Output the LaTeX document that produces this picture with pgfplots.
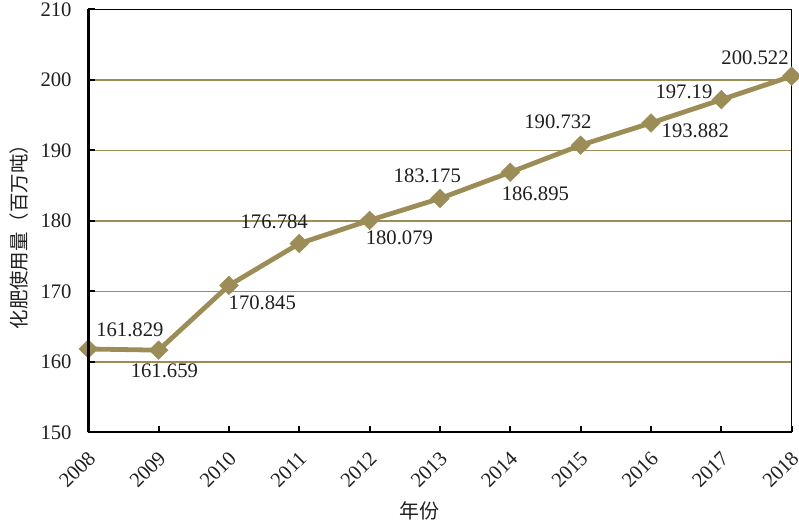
\documentclass[border=0pt]{standalone}
\usepackage{pgfplots}
\pgfplotsset{compat=1.18}
\usepackage{pgfplotstable}
\usepackage{fontspec}
\setmainfont{Liberation Serif}
\newfontfamily\cjk{Noto Sans CJK SC}
\definecolor{olivebar}{RGB}{155,141,85}

% year, fertilizer use (million t), label text, label offset (pt)
\pgfplotstableread{
year value lab dx dy
2008 161.829 161.829 31.2 14.3
2009 161.659 161.659 4.3 -15.2
2010 170.845 170.845 25.0 -13.0
2011 176.784 176.784 -18.8 16.3
2012 180.079 180.079 22.3 -13.0
2013 183.175 183.175 -9.5 17.0
2014 186.895 186.895 18.8 -15.8
2015 190.732 190.732 -17.0 17.5
2016 193.882 193.882 33.2 -6.2
2017 197.19 197.19 -28.0 5.7
2018 200.522 200.522 -27.5 13.7
}\fert

\begin{document}
\begin{tikzpicture}
\begin{axis}[
  scale only axis,
  width=527.5pt, height=317.25pt,
  xmin=2008, xmax=2018, ymin=150, ymax=210,
  xtick={2008,...,2018}, ytick={150,160,...,210},
  /pgf/number format/assume math mode=true,
  /pgf/number format/1000 sep={},
  tick align=inside, xtick pos=bottom, ytick pos=left,
  major tick length=5pt,
  tick style={black, line width=1.5pt},
  axis line style={black, line width=0.8pt},
  ymajorgrids,
  major grid style={olivebar, line width=1.1pt},
  ticklabel style={font=\fontsize{15.5}{18}\selectfont, text=black!88},
  yticklabel style={xshift=-9pt},
  xticklabel style={rotate=45, anchor=north east, xshift=-6.5pt, yshift=-5.1pt},
  xlabel={\cjk 年份},
  ylabel={\cjk 化肥使用量（百万吨）},
  every axis x label/.style={at={(axis description cs:0.4716,0)}, anchor=center, yshift=-59pt, font=\fontsize{15}{18}\selectfont, text=black!88},
  every axis y label/.style={at={(axis description cs:0,0.4735)}, rotate=90, anchor=center, yshift=52pt, font=\fontsize{14.6}{18}\selectfont, text=black!88},
  clip=false,
]
\addplot[olivebar, line width=3.6pt, mark=diamond*, mark size=7pt,
  mark options={solid, fill=olivebar, draw=olivebar, line width=0.3pt, xscale=1.35},
  point meta=explicit symbolic,
  nodes near coords={\pgfplotspointmeta},
  visualization depends on={\thisrow{dx} \as \dx},
  visualization depends on={\thisrow{dy} \as \dy},
  every node near coord/.append style={anchor=center, xshift=\dx pt, yshift=\dy pt,
    text=black!88, font=\fontsize{15.5}{18}\selectfont},
] table[x=year, y=value, meta=lab] {\fert};
\coordinate (sw) at (rel axis cs:0,0);
\coordinate (ne) at (rel axis cs:1,1);
\end{axis}
\draw[black, line width=2.2pt] (sw) -- (sw |- ne);
\draw[black, line width=1.6pt] (sw) -- (sw -| ne);
\pgfresetboundingbox
\path[use as bounding box] ([xshift=-66.2pt, yshift=-72.5pt]sw) rectangle ([xshift=5.5pt, yshift=7pt]ne);
\end{tikzpicture}
\end{document}
